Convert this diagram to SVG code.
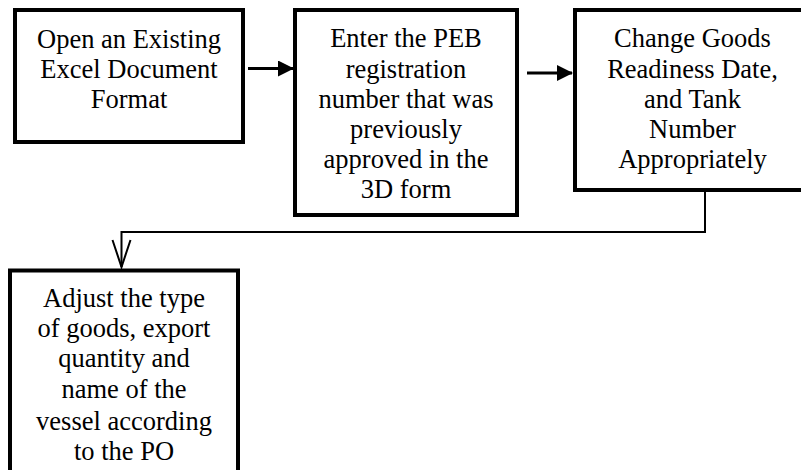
<svg xmlns="http://www.w3.org/2000/svg" width="801" height="470" viewBox="0 0 801 470">
  <style>
    .box { fill: #ffffff; stroke: #000000; stroke-width: 4; }
    .label { font-family: "Liberation Serif", "Times New Roman", serif; font-size: 26.5px; fill: #000000; text-anchor: middle; }
    .flow { fill: none; stroke: #000000; stroke-width: 3; }
    .link { fill: none; stroke: #000000; stroke-width: 2; }
  </style>
  <defs>
    <marker id="solidHead" viewBox="0 0 16 16" refX="15" refY="8" markerWidth="16" markerHeight="16" markerUnits="userSpaceOnUse" orient="auto">
      <path d="M0,0 L16,8 L0,16 Z" fill="#000000"/>
    </marker>
    <marker id="openHead" viewBox="0 0 20 28" refX="27" refY="10" markerWidth="20" markerHeight="28" markerUnits="userSpaceOnUse" orient="auto">
      <path d="M0,1 L27,10 L0,19" fill="none" stroke="#000000" stroke-width="2"/>
    </marker>
  </defs>
  <rect width="801" height="470" fill="#ffffff"/>

  <g id="connectors">
    <line class="flow" x1="248" y1="68.5" x2="293" y2="68.5" marker-end="url(#solidHead)"/>
    <line class="flow" x1="527" y1="73" x2="572" y2="73" marker-end="url(#solidHead)"/>
    <polyline class="link" points="705,190 705,232 121.5,232 121.5,267"/>
    <polyline class="link" points="112.5,240 121.5,267 130.5,240"/>
  </g>

  <g id="node-open-excel">
    <rect class="box" x="15" y="10" width="228" height="132"/>
    <text class="label" x="129" y="47.5">Open an Existing</text>
    <text class="label" x="129" y="77.5">Excel Document</text>
    <text class="label" x="129" y="108">Format</text>
  </g>

  <g id="node-enter-peb">
    <rect class="box" x="295" y="10" width="222" height="205"/>
    <text class="label" x="406" y="47">Enter the PEB</text>
    <text class="label" x="406" y="77.5">registration</text>
    <text class="label" x="406" y="107.5">number that was</text>
    <text class="label" x="406" y="137.5">previously</text>
    <text class="label" x="406" y="167.5">approved in the</text>
    <text class="label" x="406" y="198">3D form</text>
  </g>

  <g id="node-change-goods">
    <rect class="box" x="575" y="10" width="235" height="180"/>
    <text class="label" x="692.5" y="47">Change Goods</text>
    <text class="label" x="692.5" y="77.5">Readiness Date,</text>
    <text class="label" x="692.5" y="107.5">and Tank</text>
    <text class="label" x="692.5" y="137.5">Number</text>
    <text class="label" x="692.5" y="167.5">Appropriately</text>
  </g>

  <g id="node-adjust-goods">
    <rect class="box" x="10" y="270.5" width="228" height="230"/>
    <text class="label" x="124" y="307">Adjust the type</text>
    <text class="label" x="124" y="337">of goods, export</text>
    <text class="label" x="124" y="367">quantity and</text>
    <text class="label" x="124" y="398">name of the</text>
    <text class="label" x="124" y="429.5">vessel according</text>
    <text class="label" x="124" y="460">to the PO</text>
  </g>
</svg>
